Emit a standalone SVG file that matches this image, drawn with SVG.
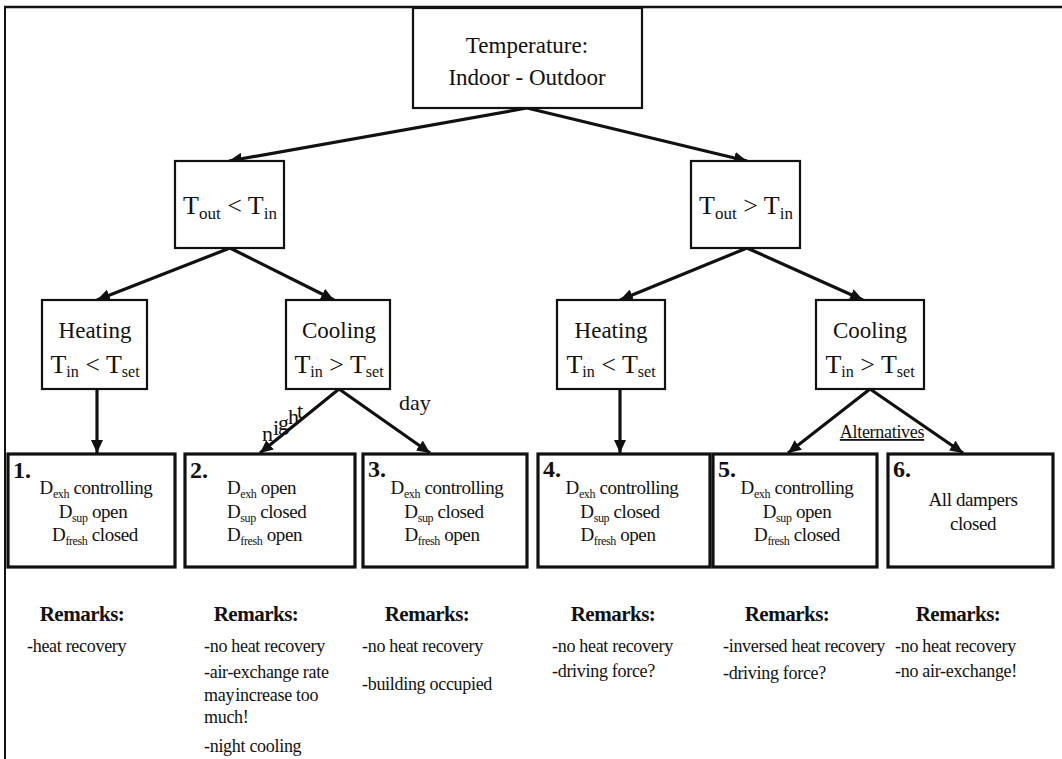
<svg xmlns="http://www.w3.org/2000/svg" width="1062" height="759" viewBox="0 0 1062 759" font-family="'Liberation Serif', 'Times New Roman', serif">
<style>
text{font-family:"Liberation Serif","Times New Roman",serif;fill:#111}
.nb{fill:#fff;stroke:#111;stroke-width:2.2}
.bb{fill:#fff;stroke:#111;stroke-width:3.2}
.c{stroke:#111;stroke-width:3.2;fill:none;marker-end:url(#ah)}
.t1{font-family:"Liberation Serif",serif;font-size:23px;text-anchor:middle}
.t2{font-family:"Liberation Serif",serif;font-size:26px;text-anchor:middle}
.s2{font-size:16px}
.s3{font-size:17px}
.bt{font-family:"Liberation Serif",serif;font-size:19px;letter-spacing:-0.4px}
.bs{font-size:12px}
.num{font-family:"Liberation Serif",serif;font-size:24px;font-weight:bold}
.rh{font-family:"Liberation Serif",serif;font-size:21px;font-weight:bold;text-anchor:middle;letter-spacing:-0.5px}
.rt{font-family:"Liberation Serif",serif;font-size:18px;letter-spacing:-0.3px}
.lb{font-family:"Liberation Serif",serif;font-size:22px}
</style>
<defs>
<marker id="ah" markerUnits="userSpaceOnUse" markerWidth="14" markerHeight="12" refX="13" refY="6" orient="auto">
<path d="M0,0 L13,6 L0,12 z" fill="#111"/>
</marker>
</defs>
<rect width="1062" height="759" fill="#fff"/>
<g id="frame" stroke="#111" fill="none">
<line x1="4" y1="7" x2="1062" y2="7" stroke-width="2.5"/>
<line x1="5" y1="6" x2="5" y2="759" stroke-width="2"/>
</g>
<g id="connectors">
<line class="c" x1="527" y1="108" x2="229" y2="161"/>
<line class="c" x1="527" y1="108" x2="747" y2="161"/>
<line class="c" x1="230" y1="248" x2="97" y2="300"/>
<line class="c" x1="230" y1="248" x2="334" y2="300"/>
<line class="c" x1="747" y1="248" x2="620" y2="300"/>
<line class="c" x1="747" y1="248" x2="863" y2="300"/>
<line class="c" x1="97" y1="389" x2="97" y2="453"/>
<line class="c" x1="339" y1="389" x2="260" y2="453"/>
<line class="c" x1="339" y1="389" x2="430" y2="453"/>
<line class="c" x1="620" y1="389" x2="620" y2="453"/>
<line class="c" x1="870" y1="389" x2="788" y2="453"/>
<line class="c" x1="870" y1="389" x2="963" y2="453"/>
<text class="lb" x="262" y="441">n</text>
<text class="lb" x="273" y="435">i</text>
<text class="lb" x="278" y="430">g</text>
<text class="lb" x="288" y="424">h</text>
<text class="lb" x="297" y="418">t</text>
<text class="lb" x="399" y="410">day</text>
<text x="882" y="438" font-size="18" text-anchor="middle" text-decoration="underline" letter-spacing="-0.3">Alternatives</text>
</g>
<g id="n-top">
<rect class="nb" x="413" y="8" width="229" height="100"/>
<text class="t1" x="527" y="53">Temperature:</text>
<text class="t1" x="527" y="85">Indoor - Outdoor</text>
</g>
<g id="n-out-lt-in">
<rect class="nb" x="175" y="161" width="109" height="87"/>
<text class="t2" x="230" y="214">T<tspan class="s3" dy="5">out</tspan><tspan dy="-5"> &lt; T</tspan><tspan class="s3" dy="5">in</tspan></text>
</g>
<g id="n-out-gt-in">
<rect class="nb" x="691" y="161" width="109" height="87"/>
<text class="t2" x="746" y="214">T<tspan class="s3" dy="5">out</tspan><tspan dy="-5"> &gt; T</tspan><tspan class="s3" dy="5">in</tspan></text>
</g>
<g id="n-heat-l">
<rect class="nb" x="42" y="300" width="105" height="89"/>
<text class="t1" x="95" y="338">Heating</text>
<text class="t2" x="95" y="373">T<tspan class="s2" dy="4">in</tspan><tspan dy="-4"> &lt; T</tspan><tspan class="s2" dy="4">set</tspan></text>
</g>
<g id="n-cool-l">
<rect class="nb" x="286" y="300" width="104" height="89"/>
<text class="t1" x="339" y="338">Cooling</text>
<text class="t2" x="339" y="373">T<tspan class="s2" dy="4">in</tspan><tspan dy="-4"> &gt; T</tspan><tspan class="s2" dy="4">set</tspan></text>
</g>
<g id="n-heat-r">
<rect class="nb" x="557" y="300" width="108" height="89"/>
<text class="t1" x="611" y="338">Heating</text>
<text class="t2" x="611" y="373">T<tspan class="s2" dy="4">in</tspan><tspan dy="-4"> &lt; T</tspan><tspan class="s2" dy="4">set</tspan></text>
</g>
<g id="n-cool-r">
<rect class="nb" x="816" y="300" width="108" height="89"/>
<text class="t1" x="870" y="338">Cooling</text>
<text class="t2" x="870" y="373">T<tspan class="s2" dy="4">in</tspan><tspan dy="-4"> &gt; T</tspan><tspan class="s2" dy="4">set</tspan></text>
</g>
<g id="b1">
<rect class="bb" x="8" y="454" width="167" height="113"/>
<text class="num" x="13" y="478">1.</text>
<text class="bt" x="96" y="494" text-anchor="middle">D<tspan class="bs" dy="4">exh</tspan><tspan dy="-4"> controlling</tspan></text>
<text class="bt" x="93" y="518" text-anchor="middle">D<tspan class="bs" dy="4">sup</tspan><tspan dy="-4"> open</tspan></text>
<text class="bt" x="95" y="541" text-anchor="middle">D<tspan class="bs" dy="4">fresh</tspan><tspan dy="-4"> closed</tspan></text>
</g>
<g id="b2">
<rect class="bb" x="185" y="454" width="170" height="113"/>
<text class="num" x="190" y="478">2.</text>
<text class="bt" x="227" y="494">D<tspan class="bs" dy="4">exh</tspan><tspan dy="-4"> open</tspan></text>
<text class="bt" x="227" y="518">D<tspan class="bs" dy="4">sup</tspan><tspan dy="-4"> closed</tspan></text>
<text class="bt" x="227" y="541">D<tspan class="bs" dy="4">fresh</tspan><tspan dy="-4"> open</tspan></text>
</g>
<g id="b3">
<rect class="bb" x="363" y="454" width="164" height="113"/>
<text class="num" x="368" y="477">3.</text>
<text class="bt" x="447" y="494" text-anchor="middle">D<tspan class="bs" dy="4">exh</tspan><tspan dy="-4"> controlling</tspan></text>
<text class="bt" x="444" y="518" text-anchor="middle">D<tspan class="bs" dy="4">sup</tspan><tspan dy="-4"> closed</tspan></text>
<text class="bt" x="442" y="541" text-anchor="middle">D<tspan class="bs" dy="4">fresh</tspan><tspan dy="-4"> open</tspan></text>
</g>
<g id="b4">
<rect class="bb" x="538" y="454" width="172" height="113"/>
<text class="num" x="543" y="477">4.</text>
<text class="bt" x="622" y="494" text-anchor="middle">D<tspan class="bs" dy="4">exh</tspan><tspan dy="-4"> controlling</tspan></text>
<text class="bt" x="620" y="518" text-anchor="middle">D<tspan class="bs" dy="4">sup</tspan><tspan dy="-4"> closed</tspan></text>
<text class="bt" x="618" y="541" text-anchor="middle">D<tspan class="bs" dy="4">fresh</tspan><tspan dy="-4"> open</tspan></text>
</g>
<g id="b5">
<rect class="bb" x="713" y="454" width="164" height="113"/>
<text class="num" x="718" y="477">5.</text>
<text class="bt" x="797" y="494" text-anchor="middle">D<tspan class="bs" dy="4">exh</tspan><tspan dy="-4"> controlling</tspan></text>
<text class="bt" x="797" y="518" text-anchor="middle">D<tspan class="bs" dy="4">sup</tspan><tspan dy="-4"> open</tspan></text>
<text class="bt" x="797" y="541" text-anchor="middle">D<tspan class="bs" dy="4">fresh</tspan><tspan dy="-4"> closed</tspan></text>
</g>
<g id="b6">
<rect class="bb" x="888" y="454" width="165" height="113"/>
<text class="num" x="893" y="477">6.</text>
<text class="bt" x="973" y="506" text-anchor="middle">All dampers</text>
<text class="bt" x="973" y="530" text-anchor="middle">closed</text>
</g>
<g id="remarks">
<text class="rh" x="82" y="621">Remarks:</text>
<text class="rt" x="27" y="652">-heat recovery</text>
<text class="rh" x="256" y="621">Remarks:</text>
<text class="rt" x="204" y="652">-no heat recovery</text>
<text class="rt" x="204" y="678">-air-exchange rate</text>
<text class="rt" x="204" y="701">may<tspan dx="-3"> increase too</tspan></text>
<text class="rt" x="204" y="723">much!</text>
<text class="rt" x="204" y="752">-night cooling</text>
<text class="rh" x="427" y="621">Remarks:</text>
<text class="rt" x="362" y="652">-no heat recovery</text>
<text class="rt" x="362" y="690">-building occupied</text>
<text class="rh" x="613" y="621">Remarks:</text>
<text class="rt" x="552" y="652">-no heat recovery</text>
<text class="rt" x="552" y="677">-driving force?</text>
<text class="rh" x="787" y="621">Remarks:</text>
<text class="rt" x="723" y="652">-inversed heat recovery</text>
<text class="rt" x="723" y="679">-driving force?</text>
<text class="rh" x="958" y="621">Remarks:</text>
<text class="rt" x="895" y="652">-no heat recovery</text>
<text class="rt" x="895" y="677">-no air-exchange!</text>
</g>
</svg>
